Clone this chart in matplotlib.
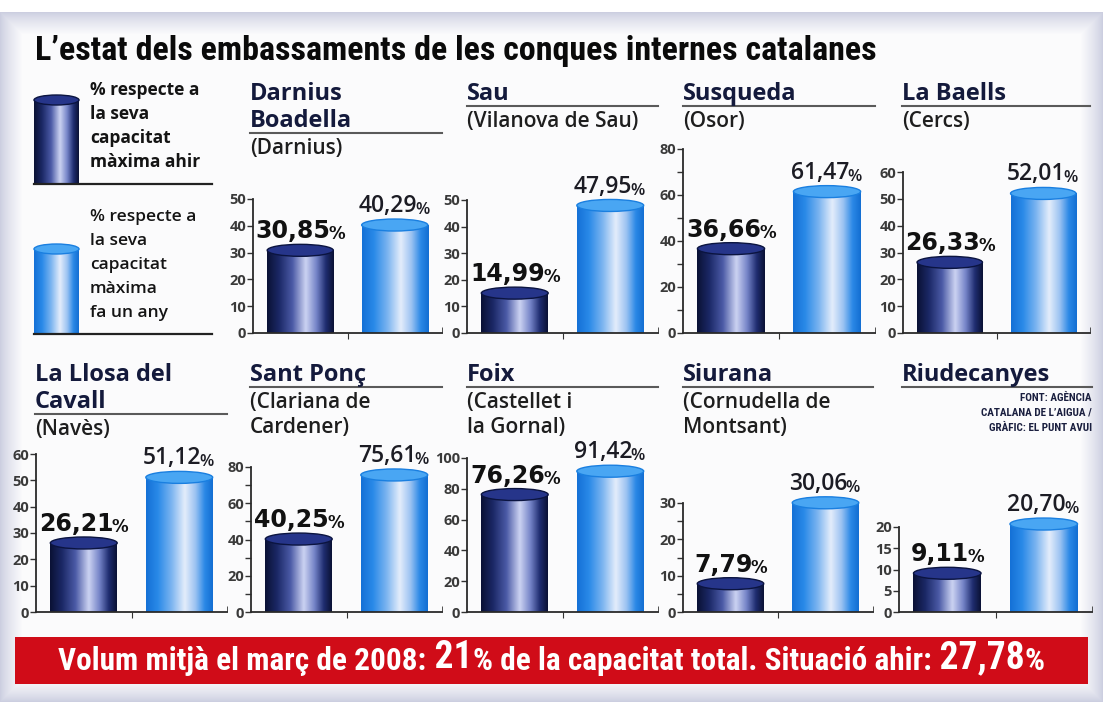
"""L'estat dels embassaments de les conques internes catalanes (infographic remake)."""

import matplotlib

matplotlib.use("Agg")  # headless
import matplotlib.pyplot as plt
import numpy as np
from matplotlib import font_manager
from matplotlib.colors import LinearSegmentedColormap
from matplotlib.patches import Ellipse, Rectangle

W, H = 1103, 702

TITLE = "L’estat dels embassaments de les conques internes catalanes"
RESERVOIRS = [
    "Darnius\nBoadella",
    "Sau",
    "Susqueda",
    "La Baells",
    "La Llosa del\nCavall",
    "Sant Ponç",
    "Foix",
    "Siurana",
    "Riudecanyes",
]
TOWNS = [
    "(Darnius)",
    "(Vilanova de Sau)",
    "(Osor)",
    "(Cercs)",
    "(Navès)",
    "(Clariana de\nCardener)",
    "(Castellet i\nla Gornal)",
    "(Cornudella de\nMontsant)",
    "",
]
AHIR = [30.85, 14.99, 36.66, 26.33, 26.21, 40.25, 76.26, 7.79, 9.11]
FA_UN_ANY = [40.29, 47.95, 61.47, 52.01, 51.12, 75.61, 91.42, 30.06, 20.70]
Y_MAX = [50, 50, 80, 60, 60, 80, 100, 30, 20]
Y_LABEL_STEP = [10, 10, 20, 10, 10, 20, 20, 10, 5]
Y_MINOR_STEP = [None, None, 10, None, None, 10, None, 5, None]

LEGEND_AHIR = ["% respecte a", "la seva", "capacitat", "màxima ahir"]
LEGEND_ANY = ["% respecte a", "la seva", "capacitat", "màxima", "fa un any"]
SOURCE = ["FONT: AGÈNCIA", "CATALANA DE L’AIGUA /", "GRÀFIC: EL PUNT AVUI"]
BANNER = [
    ("Volum mitjà el març de 2008:", False),
    (" 21", True),
    ("%", False),
    (" de la capacitat total. Situació ahir:", False),
    (" 27,78", True),
    ("%", False),
]

# layout in pixels: (axis left, axis right, y of top tick, baseline), title x, row
PANELS = [
    (253, 442, 199, 333, 250, 0),
    (467, 658, 200, 333, 467, 0),
    (683, 875, 149, 333, 683, 0),
    (903, 1090, 172, 333, 902, 0),
    (36, 227, 454, 612, 35, 1),
    (251, 442, 467, 612, 250, 1),
    (467, 658, 458, 612, 467, 1),
    (683, 873, 503, 612, 683, 1),
    (899, 1092, 527, 612, 902, 1),
]
NAME_BASELINE = [100, 381]

NAVY = "#141a3c"
plt.rcParams["font.family"] = ["Open Sans", "DejaVu Sans"]

names = {f.name for f in font_manager.fontManager.ttflist}
NARROW = next(
    (n for n in ["Liberation Sans Narrow", "Roboto Condensed", "Open Sans Condensed"] if n in names),
    None,
)
narrow_family = [NARROW, "DejaVu Sans"] if NARROW else ["Roboto", "DejaVu Sans"]
title_size = 24.5 if NARROW else 21
banner_size = (22.5, 27) if NARROW else (18, 22)

dark_cmap = LinearSegmentedColormap.from_list(
    "dark",
    [(0, "#0a1134"), (0.18, "#1b2866"), (0.38, "#4b5aa6"), (0.58, "#ccd3f2"),
     (0.74, "#7584c8"), (0.88, "#1f2d70"), (1, "#0a1134")],
)
light_cmap = LinearSegmentedColormap.from_list(
    "light",
    [(0, "#1470d6"), (0.18, "#2a8ae8"), (0.38, "#7bb4f0"), (0.58, "#e4edfb"),
     (0.74, "#9cc3f2"), (0.88, "#2a88e6"), (1, "#136ed2")],
)
DARK_TOP = ("#26358a", "#0b1440")
LIGHT_TOP = ("#49a6f3", "#1a7fe0")


def cylinder(ax, x0, x1, base, top, cmap, colors, ell_h):
    grad = np.linspace(0, 1, 256)[None, :]
    ax.imshow(grad, cmap=cmap, extent=(x0, x1, base, top), aspect="auto",
              interpolation="bicubic", zorder=2, clip_on=False)
    ax.add_patch(Ellipse(((x0 + x1) / 2, top), x1 - x0, ell_h, facecolor=colors[0],
                         edgecolor=colors[1], lw=1.0, zorder=3, clip_on=False))


def value_label(ax, x, y, value, first):
    num = f"{value:.2f}".replace(".", ",")
    if first:
        kw = dict(family=["DejaVu Sans"], fontweight="bold", color="#111111")
        size = 17
    else:
        kw = dict(fontweight="semibold", color="#1c1c24")
        size = 16.5
    t = ax.annotate(num, xy=(x, y), xytext=(-5, 5), textcoords="offset points",
                    ha="center", va="bottom", fontsize=size, annotation_clip=False,
                    zorder=5, **kw)
    ax.annotate("%", xy=(1, 0), xycoords=t, xytext=(-1.5, 0), textcoords="offset points",
                ha="left", va="bottom", fontsize=12, zorder=5, **kw)


fig = plt.figure(figsize=(W / 100, H / 100), dpi=100)

# background canvas in pixel coordinates (y down)
bg = fig.add_axes([0, 0, 1, 1])
bg.set_zorder(-1)
bg.axis("off")
yy, xx = np.mgrid[0:H, 0:W]
d = np.minimum.reduce([xx, W - 1 - xx, yy - 12, H - 1 - yy]).astype(float)
t = np.clip(d / 22.0, 0, 1)[..., None] ** 0.8
img = np.array([0.80, 0.81, 0.88]) * (1 - t) + np.array([0.985, 0.985, 0.992]) * t
img[:12] = 1.0
bg.imshow(img, extent=(0, W, H, 0), aspect="auto", interpolation="bilinear")

bg.text(35, 60, TITLE, family=narrow_family, fontsize=title_size, fontweight="bold",
        color="#0a0a0a", va="baseline")

# legend
cylinder(bg, 34, 79, 183, 100, dark_cmap, DARK_TOP, 10)
bg.plot([34, 212], [183.5, 183.5], color="#222222", lw=1.6)
for i, line in enumerate(LEGEND_AHIR):
    bg.text(90, 95 + 24 * i, line, fontsize=12.5, fontweight="bold", color="#141414",
            va="baseline")
cylinder(bg, 34, 79, 333, 249, light_cmap, LIGHT_TOP, 10)
bg.plot([34, 212], [333.5, 333.5], color="#222222", lw=1.6)
for i, line in enumerate(LEGEND_ANY):
    bg.text(90, 221 + 24 * i, line, fontsize=12.5, fontweight="semibold", color="#141414",
            va="baseline")

# panels
for k, (left, right, top_px, base_px, tx, row) in enumerate(PANELS):
    name_lines = RESERVOIRS[k].split("\n")
    y = NAME_BASELINE[row]
    for j, line in enumerate(name_lines):
        bg.text(tx, y + 27 * j, line, fontsize=17, fontweight="bold", color=NAVY,
                va="baseline")
    rule_y = y + 27 * (len(name_lines) - 1) + 6
    bg.plot([tx, right], [rule_y, rule_y], color="#5a5a5a", lw=1.5)
    if TOWNS[k]:
        for j, line in enumerate(TOWNS[k].split("\n")):
            bg.text(tx, rule_y + 21 + 25 * j, line, fontsize=15, fontweight="semibold",
                    color="#1e1e1e", va="baseline")

    ax = fig.add_axes([left / W, 1 - base_px / H, (right - left) / W, (base_px - top_px) / H])
    ax.set_facecolor("none")
    ymax = Y_MAX[k]
    ell = 12 * ymax / (base_px - top_px)
    cylinder(ax, -0.35, 0.35, 0, AHIR[k], dark_cmap, DARK_TOP, ell)
    cylinder(ax, 0.65, 1.35, 0, FA_UN_ANY[k], light_cmap, LIGHT_TOP, ell)
    value_label(ax, 0, AHIR[k], AHIR[k], True)
    value_label(ax, 1, FA_UN_ANY[k], FA_UN_ANY[k], False)

    ax.set_xlim(-0.5, 1.5)
    ax.set_ylim(0, ymax)
    ax.set_yticks(np.arange(0, ymax + 1, Y_LABEL_STEP[k]))
    if Y_MINOR_STEP[k]:
        ax.set_yticks(np.arange(0, ymax + 1, Y_MINOR_STEP[k]), minor=True)
    ax.set_xticks([0.5])
    ax.set_xticklabels([])
    ax.set_xticks([1.5], minor=True)
    ax.tick_params(axis="y", which="both", direction="out", length=4, width=1,
                   color="#333333", labelsize=10.5, labelcolor="#3a3a3a", pad=1)
    ax.tick_params(axis="x", which="major", direction="out", length=4, color="#333333")
    ax.tick_params(axis="x", which="minor", direction="in", length=4, color="#333333")
    for lab in ax.get_yticklabels():
        lab.set_fontweight("bold")
    for side in ("top", "right"):
        ax.spines[side].set_visible(False)
    for side in ("left", "bottom"):
        ax.spines[side].set_color("#2a2a2a")
        ax.spines[side].set_linewidth(1.3)

for i, line in enumerate(SOURCE):
    bg.text(1092, 401 + 15 * i, line, family=narrow_family, fontsize=8, fontweight="bold",
            color="#1a1f3f", ha="right", va="baseline")

# red banner
bg.add_patch(Rectangle((15, 637), 1073, 47, facecolor="#d00c18", edgecolor="none"))
pieces = []
prev = None
for text, big in BANNER:
    kw = dict(family=narrow_family, color="white", fontweight="bold",
              fontsize=banner_size[1] if big else banner_size[0])
    if prev is None:
        prev = bg.text(52, 670, text, va="baseline", ha="left", **kw)
    else:
        prev = bg.annotate(text, xy=(1, 0), xycoords=prev, va="bottom", ha="left", **kw)
    pieces.append(prev)

bg.set_xlim(0, W)
bg.set_ylim(H, 0)

fig.canvas.draw()
x_first = pieces[0].get_window_extent().x0
x_last = pieces[-1].get_window_extent().x1
shift = (15 + 1088) / 2 - (x_first + x_last) / 2
pieces[0].set_x(52 + shift)

fig.savefig("out.png", dpi=100)
plt.close(fig)
